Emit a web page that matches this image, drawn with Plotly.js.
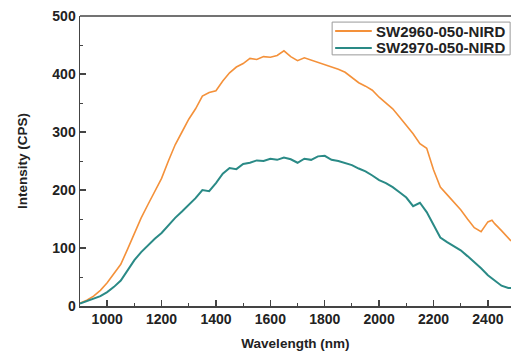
<!DOCTYPE html>
<html><head><meta charset="utf-8">
<script src="https://cdn.plot.ly/plotly-3.0.1.min.js"></script>
<style>html,body{margin:0;padding:0;background:#fff}#c{width:511px;height:354px}</style>
</head><body><div id="c"></div>
<script>
const wavelength = [900,925,950,975,1000,1025,1050,1075,1100,1125,1150,1175,1200,1225,1250,1275,1300,1325,1350,1375,1400,1425,1450,1475,1500,1525,1550,1575,1600,1625,1650,1675,1700,1725,1750,1775,1800,1825,1850,1875,1900,1925,1950,1975,2000,2025,2050,2075,2100,2125,2150,2175,2200,2225,2250,2275,2300,2325,2350,2375,2400,2415,2425,2450,2475,2485];
const sw2960 = [5,10,17,27,40,55,72,98,126,152,175,198,220,250,278,300,322,340,362,368,371,388,402,412,418,427,425,430,429,432,440,430,423,428,424,420,416,413,408,403,394,385,379,372,360,350,340,326,312,297,280,272,235,205,192,179,166,150,135,128,145,148,142,130,118,112];
const sw2970 = [4,8,12,17,24,33,44,62,79,93,105,116,126,140,152,163,174,186,200,198,212,228,238,236,245,247,251,250,254,252,256,253,247,254,252,258,259,252,250,246,243,237,232,225,217,212,205,196,187,172,178,162,140,118,110,103,96,86,76,65,53,47,44,35,31,31];
const seriesNames = ["SW2960-050-NIRD","SW2970-050-NIRD"];
const seriesColors = ["#F4913A","#2A8A86"];
const xTicks = [1000,1200,1400,1600,1800,2000,2200,2400];
const yTicks = [0,100,200,300,400,500];

const F = "Liberation Sans, Arial, sans-serif";
const traces = [
  {x: wavelength, y: sw2960, name: seriesNames[0], type: "scatter", mode: "lines",
   line: {color: seriesColors[0], width: 1.6}},
  {x: wavelength, y: sw2970, name: seriesNames[1], type: "scatter", mode: "lines",
   line: {color: seriesColors[1], width: 2}}
];
const legRows = [0.948, 0.890];
const shapes = [
  {type: "line", xref: "paper", yref: "paper", x0: 0, x1: 1, y0: 1, y1: 1, line: {color: "#444", width: 1.5}},
  {type: "rect", xref: "paper", yref: "paper", x0: 0.585, x1: 0.998, y0: 0.866, y1: 0.979,
   line: {color: "#999", width: 1}, fillcolor: "#fff"}
];
const annotations = [];
seriesNames.forEach((n, i) => {
  shapes.push({type: "line", xref: "paper", yref: "paper", x0: 0.592, x1: 0.677, y0: legRows[i], y1: legRows[i],
    line: {color: seriesColors[i], width: 2}});
  annotations.push({xref: "paper", yref: "paper", x: 0.682, y: legRows[i], xanchor: "left", yanchor: "middle",
    text: n, showarrow: false, font: {family: F, size: 15, weight: "bold", color: "#222"}});
});
const layout = {
  width: 511, height: 354,
  margin: {l: 80, r: 0, t: 16, b: 48},
  paper_bgcolor: "#fff", plot_bgcolor: "#fff",
  font: {family: F, color: "#222", size: 14, weight: "bold"},
  showlegend: false,
  xaxis: {range: [900, 2485], tickvals: xTicks, ticks: "inside", ticklen: 6, tickwidth: 1.5,
    tickcolor: "#444", showline: true, linecolor: "#444", linewidth: 1.5,
    showgrid: false, zeroline: false,
    minor: {dtick: 100, ticks: "inside", ticklen: 3, tickcolor: "#444", tickwidth: 1},
    tickfont: {family: F, size: 14, weight: "bold", color: "#222"},
    title: {text: "Wavelength (nm)", font: {family: F, size: 13.5, weight: "bold", color: "#222"}, standoff: 12}},
  yaxis: {range: [0, 500], tickvals: yTicks, ticks: "inside", ticklen: 6, tickwidth: 1.5,
    tickcolor: "#444", showline: true, linecolor: "#444", linewidth: 1.5,
    showgrid: false, zeroline: false,
    minor: {dtick: 50, ticks: "inside", ticklen: 3, tickcolor: "#444", tickwidth: 1},
    tickfont: {family: F, size: 14, weight: "bold", color: "#222"},
    title: {text: "Intensity (CPS)", font: {family: F, size: 13.5, weight: "bold", color: "#222"}, standoff: 21}},
  shapes: shapes,
  annotations: annotations
};
Plotly.newPlot("c", traces, layout, {staticPlot: true, displayModeBar: false});
</script></body></html>
